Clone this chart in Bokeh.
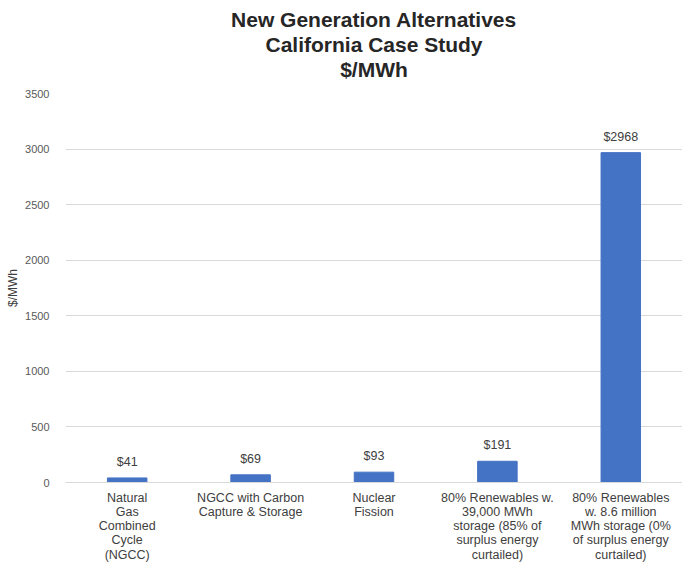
from bokeh.plotting import figure
from bokeh.models import ColumnDataSource, Range1d, FixedTicker, LabelSet, Title
from bokeh.core.properties import value
from bokeh.embed import file_html
from bokeh.resources import INLINE

categories = [
    "Natural\nGas\nCombined\nCycle\n(NGCC)",
    "NGCC with Carbon\nCapture & Storage",
    "Nuclear\nFission",
    "80% Renewables w.\n39,000 MWh\nstorage (85% of\nsurplus energy\ncurtailed)",
    "80% Renewables\nw. 8.6 million\nMWh storage (0%\nof surplus energy\ncurtailed)",
]
values = [41, 69, 93, 191, 2968]
value_labels = ["$41", "$69", "$93", "$191", "$2968"]
y_ticks = [0, 500, 1000, 1500, 2000, 2500, 3000, 3500]
title_lines = ["New Generation Alternatives", "California Case Study", "$/MWh"]

src = ColumnDataSource(dict(cat=categories, val=values, lab=value_labels))

p = figure(
    x_range=categories,
    y_range=Range1d(0, 3500),
    frame_width=617, frame_height=389,
    min_border_left=65, min_border_right=0, min_border_top=93, min_border_bottom=86,
    output_backend="svg", toolbar_location=None,
)
p.title.visible = False
# small empty spacer between the plot frame and the title block
p.add_layout(Title(text=" ", text_font_size="10px", standoff=0), "above")
for t in reversed(title_lines):
    ttl = Title(text=t, align="center",
                text_font="Liberation Sans",
                text_font_size="21px", text_font_style="bold", text_color="#262626",
                standoff=0, offset=0)
    p.add_layout(ttl, "above")

p.vbar(x="cat", top="val", width=0.32, source=src, color="#4472C4")

labels = LabelSet(x="cat", y="val", text="lab", source=src, y_offset=9,
                  text_align="center", text_baseline="bottom",
                  text_font=value("Liberation Sans"), text_font_size="12.5px",
                  text_color="#404040")
p.add_layout(labels)

p.outline_line_color = None
p.xgrid.grid_line_color = None
p.ygrid.grid_line_color = "#D9D9D9"
p.ygrid.ticker = FixedTicker(ticks=y_ticks)
p.yaxis.ticker = FixedTicker(ticks=y_ticks)
p.yaxis.axis_line_color = None
p.yaxis.major_tick_line_color = None
p.yaxis.minor_tick_line_color = None
p.yaxis.major_label_text_font = "Liberation Sans"
p.yaxis.major_label_text_font_size = "11px"
p.yaxis.major_label_text_color = "#595959"
p.yaxis.major_label_standoff = 10
p.yaxis.axis_label = "$/MWh"
p.yaxis.axis_label_text_font = "Liberation Sans"
p.yaxis.axis_label_text_font_size = "12px"
p.yaxis.axis_label_text_font_style = "normal"
p.yaxis.axis_label_text_color = "#404040"
p.yaxis.axis_label_standoff = 2

p.xaxis.axis_line_color = "#D9D9D9"
p.xaxis.major_tick_line_color = None
p.xaxis.minor_tick_line_color = None
p.xaxis.major_label_text_font = "Liberation Sans"
p.xaxis.major_label_text_font_size = "12.5px"
p.xaxis.major_label_text_color = "#404040"
p.xaxis.major_label_text_line_height = 1.02
p.xaxis.major_label_standoff = 2

open("out.html", "w").write(file_html(p, INLINE))
